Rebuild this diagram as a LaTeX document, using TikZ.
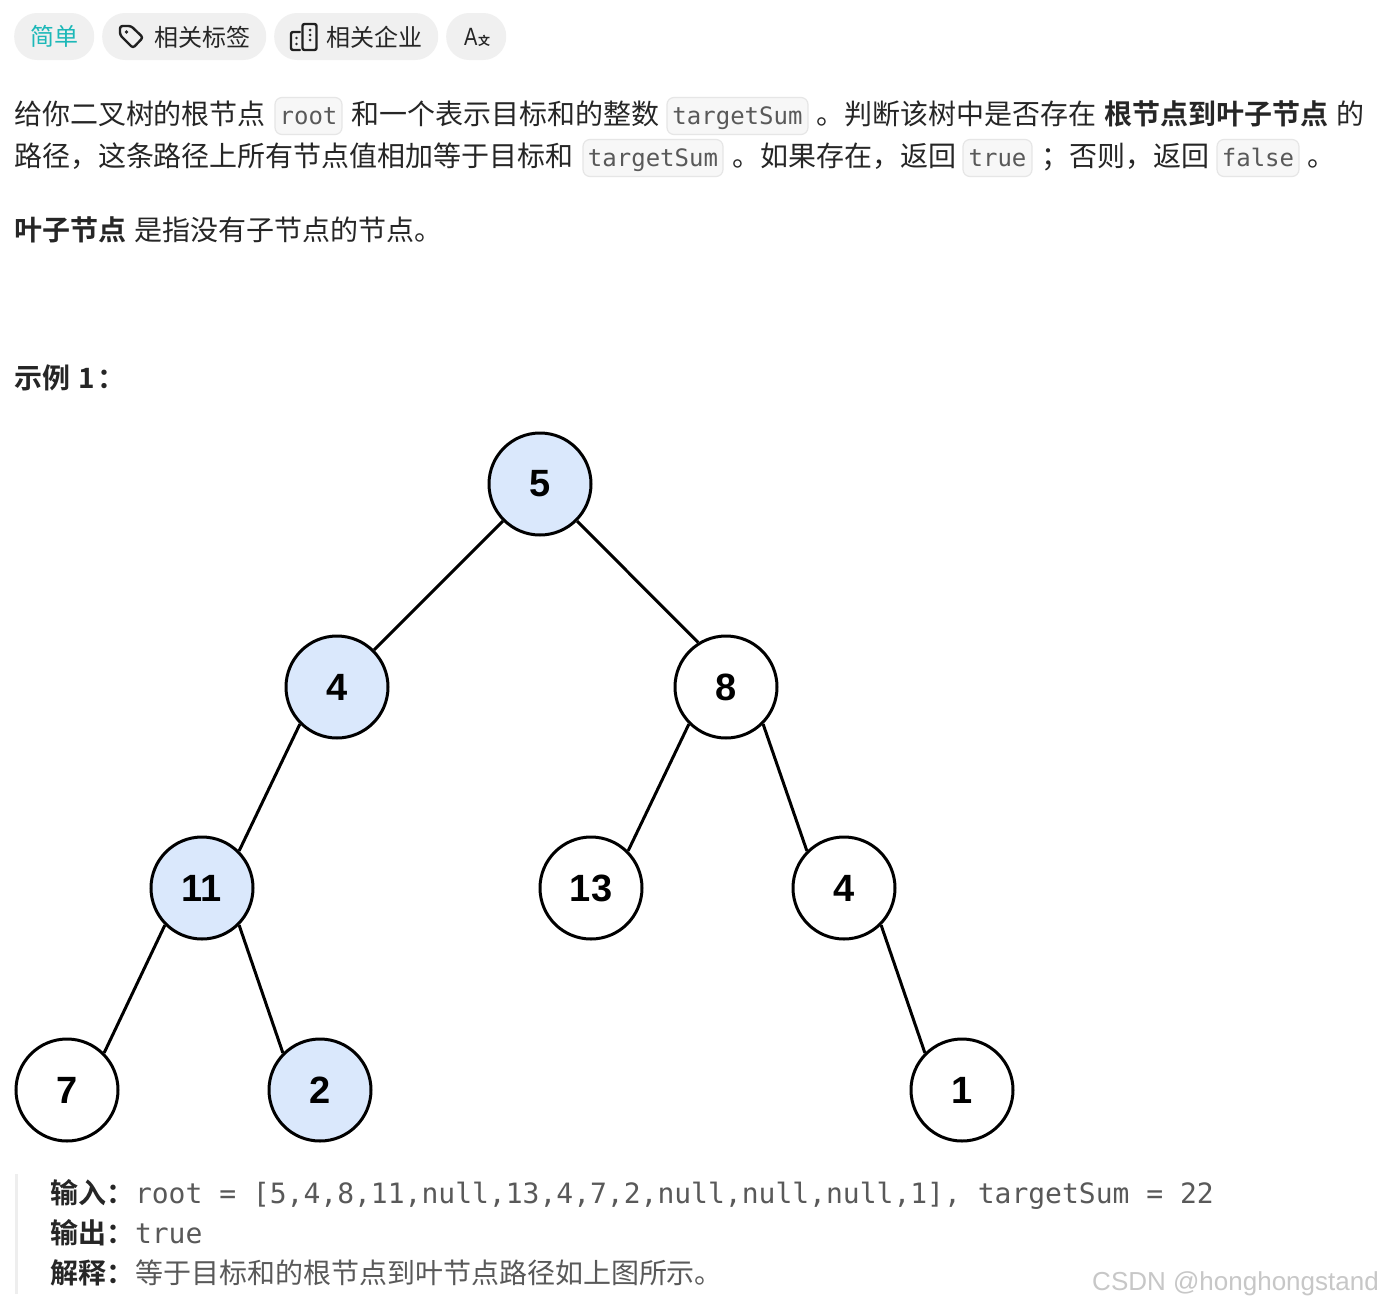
\documentclass[tikz,border=0pt]{standalone}
\usepackage{fontspec}
\setmainfont{Liberation Sans}
\newfontfamily\cjk{Noto Sans CJK SC}
\newfontfamily\cjkb{Noto Sans CJK SC Bold}
\newfontfamily\monof{DejaVu Sans Mono}
\newfontfamily\arial{Liberation Sans}
\definecolor{ink}{HTML}{262626}
\definecolor{pill}{HTML}{F0F0F0}
\definecolor{teal1}{HTML}{1CB8B8}
\definecolor{codefill}{HTML}{F7F7F7}
\definecolor{codeline}{HTML}{E6E6E6}
\definecolor{codeink}{HTML}{595959}
\definecolor{bar}{HTML}{EEEEEE}
\definecolor{treefill}{HTML}{DAE8FC}
\tikzset{
  txt/.style={anchor=base west,inner sep=0,outer sep=0,text=ink,font=\cjk\fontsize{28}{34}\selectfont},
  txtb/.style={txt,font=\cjkb\fontsize{28}{34}\selectfont},
  small/.style={txt,font=\cjk\fontsize{24}{30}\selectfont},
  mono/.style={anchor=base west,inner sep=0,outer sep=0,text=codeink,font=\monof\fontsize{28}{34}\selectfont},
  grayt/.style={txt,text=codeink},
  pillbox/.style={fill=pill,rounded corners=23pt,inner sep=0,minimum height=47pt,anchor=west},
  codebox/.style={fill=codefill,draw=codeline,line width=1.2pt,rounded corners=7pt,inner sep=0,minimum height=37pt,
    text=codeink,font=\monof\fontsize{24}{30}\selectfont,text height=20pt,text depth=4pt},
  tn/.style={circle,draw=black,line width=3pt,minimum size=102pt,inner sep=0,fill=white,
    font=\arial\bfseries\fontsize{38}{44}\selectfont},
  hl/.style={tn,fill=treefill},
  edge/.style={draw=black,line width=3pt},
  icon/.style={draw=ink!85!black,line width=2.4pt,line join=round,line cap=round}
}
\begin{document}
\begin{tikzpicture}[x=1pt,y=-1pt]
\useasboundingbox (0,0) rectangle (1382,1304);
\fill[white] (0,0) rectangle (1382,1304);

% pills
\node[pillbox,minimum width=80pt,text=teal1,font=\cjk\fontsize{24}{30}\selectfont] (p1) at (14,36.5) {简单};
\node[pillbox,minimum width=164pt] (p2) at (102,36.5) {};
\node[pillbox,minimum width=164pt] (p3) at (274,36.5) {};
\node[pillbox,minimum width=60pt] (p4) at (446,36.5) {};
\node[small] (p2t) at (154,46) {相关标签};
\node[small] (p3t) at (326,46) {相关企业};
\node[anchor=base west,inner sep=0,text=ink,xscale=0.8,transform shape,font=\arial\fontsize{25}{30}\selectfont] (p4a) at (464,45) {A};
\node[anchor=base west,inner sep=0,text=ink,font=\cjkb\fontsize{12}{15}\selectfont] (p4b) at (478,45.5) {文};
% tag icon
\draw[icon,rounded corners=2.5pt] (120,26) -- (131,26) -- (143,37.5) -- (133,48) -- (120,35) -- cycle;
\fill[ink] (126.5,32) circle (1.8pt);
% building icon
\draw[icon,rounded corners=2pt] (300,32) -- (291,32) -- (291,50) -- (300,50);
\draw[icon,rounded corners=2pt] (302.5,24) rectangle (316.5,50);
\foreach \y in {30,35,40} {\fill[ink] (310,\y) circle (1.5pt);}
\foreach \y in {38,44} {\fill[ink] (296.5,\y) circle (1.4pt);}

% paragraph line 1
\node[txt] (a1) at (14,124) {给你二叉树的根节点};
\node[codebox,minimum width=67pt] (c1) at (308.5,116) {root};
\node[txt] (a2) at (351,124) {和一个表示目标和的整数};
\node[codebox,minimum width=141pt] (c2) at (737.5,116) {targetSum};
\node[txt] (a3) at (816,124) {。判断该树中是否存在};
\node[txtb] (a4) at (1104,124) {根节点到叶子节点};
\node[txt] (a5) at (1336,124) {的};
% line 2
\node[txt] (b1) at (14,166) {路径，这条路径上所有节点值相加等于目标和};
\node[codebox,minimum width=140pt] (c3) at (653,158) {targetSum};
\node[txt] (b2) at (732,166) {。如果存在，返回};
\node[codebox,minimum width=69pt] (c4) at (997.5,158) {true};
\node[txt] (b3) at (1041,166) {；否则，返回};
\node[codebox,minimum width=82pt] (c5) at (1258,158) {false};
\node[txt] (b4) at (1307,166) {。};
% line 3
\node[txtb] (d1) at (14,240) {叶子节点};
\node[txt] (d2) at (134,240) {是指没有子节点的节点。};
% example
\node[txtb] (e1) at (14,388) {示例\hspace{2pt} 1\hspace{3pt}：};

% tree
\node[hl] (n5) at (540,484) {5};
\node[hl] (n4) at (337,687) {4};
\node[tn] (n8) at (726,687) {8};
\node[hl] (n11) at (202,888) {11};
\node[tn] (n13) at (591,888) {13};
\node[tn] (n4b) at (844,888) {4};
\node[tn] (n7) at (67,1090) {7};
\node[hl] (n2) at (320,1090) {2};
\node[tn] (n1) at (962,1090) {1};
\draw[edge] (n5.225) -- (n4.45);
\draw[edge] (n5.-45) -- (n8.122);
\draw[edge] (n4.225) -- (n11.45);
\draw[edge] (n8.225) -- (n13.45);
\draw[edge] (n8.-45) -- (n4b.135);
\draw[edge] (n11.225) -- (n7.45);
\draw[edge] (n11.-45) -- (n2.135);
\draw[edge] (n4b.-45) -- (n1.135);

% output block
\fill[bar] (15,1174) rectangle (18,1294);
\node[txtb] (f1) at (50,1203) {输入：};
\node[mono] (f2) at (135,1203) {root = [5,4,8,11,null,13,4,7,2,null,null,null,1], targetSum = 22};
\node[txtb] (g1) at (50,1243) {输出：};
\node[mono] (g2) at (135,1243) {true};
\node[txtb] (h1) at (50,1283) {解释：};
\node[grayt] (h2) at (135,1283) {等于目标和的根节点到叶节点路径如上图所示。};
\node[anchor=base east,inner sep=0,text=black!22,font=\arial\fontsize{26}{30}\selectfont] (wm) at (1379,1290) {CSDN @honghongstand};
\end{tikzpicture}
\end{document}
